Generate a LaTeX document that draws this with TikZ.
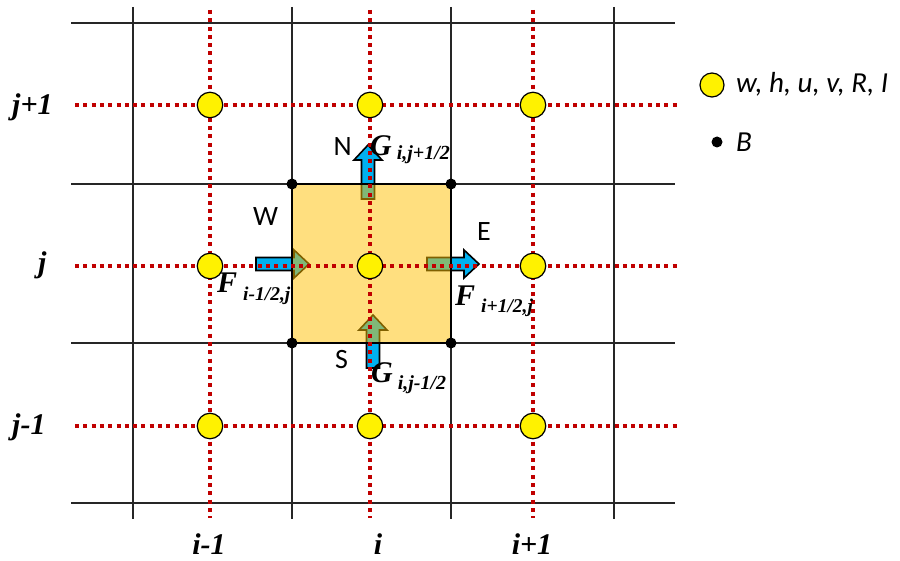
\documentclass[tikz,border=0pt]{standalone}
\usepackage{fontspec}
\setmainfont{Liberation Serif}
\newfontfamily\calibrifont{Carlito}
\definecolor{gridred}{HTML}{C00000}
\definecolor{fluxblue}{HTML}{00B0F0}
\definecolor{cellorange}{HTML}{FFC000}
\newcommand\blkarrow[4]{%
  \draw[fluxarrow, shift={(#1,#2)}, rotate=#3]
    (0,-6.5) -- (#4-15,-6.5) -- (#4-15,-14) -- (#4,0) -- (#4-15,14)
    -- (#4-15,6.5) -- (0,6.5) -- cycle;}
\begin{document}
\begin{tikzpicture}[x=1pt,y=-1pt,
  gridline/.style={draw=black!85, line width=1.2pt},
  redline/.style={draw=gridred, line width=3.8pt, dash pattern=on 4pt off 4.3pt},
  fluxarrow/.style={fill=fluxblue, draw=black, line width=1.6pt, line join=miter},
  cellpt/.style={circle, draw=black, line width=1.2pt, fill=yellow, minimum size=25.5pt, inner sep=0pt},
  cornerpt/.style={circle, fill=black, minimum size=11pt, inner sep=0pt},
  dirlbl/.style={font=\calibrifont\fontsize{28}{28}\selectfont, inner sep=0pt},
  idxlbl/.style={font=\bfseries\itshape\fontsize{30}{30}\selectfont, inner sep=0pt},
  leglbl/.style={font=\calibrifont\itshape\fontsize{29}{29}\selectfont, inner sep=0pt, anchor=base west}]
\useasboundingbox (0,0) rectangle (900,561);
% black grid
\foreach \x in {133,292,451,614} \draw[gridline] (\x,7) -- (\x,519);
\foreach \y in {23,184,343,503} \draw[gridline] (71,\y) -- (675,\y);
% flux arrows (under the translucent cell)
\blkarrow{256}{264}{0}{53}
\blkarrow{427}{264}{0}{52}
\blkarrow{368}{199}{90}{54}
\blkarrow{373}{368}{90}{53}
% control volume
\fill[cellorange, fill opacity=0.5] (292,184) rectangle (451,343);
\draw[black, line width=1.8pt] (292,184) rectangle (451,343);
% red dotted staggered lines
\foreach \x in {210,370,533} \draw[redline] (\x,10) -- (\x,518);
\foreach \y in {105,266,426} \draw[redline] (75,\y) -- (680,\y);
% cell centres
\foreach \x/\xn in {210/a,370/b,533/c}
  \foreach \y/\yn in {105/1,266/2,426/3}
    \node[cellpt] (c\xn\yn) at (\x,\y) {};
% corners
\node[cornerpt] (k1) at (292,184) {};
\node[cornerpt] (k2) at (451,184) {};
\node[cornerpt] (k3) at (292,343) {};
\node[cornerpt] (k4) at (451,343) {};
% direction letters
\node[dirlbl, anchor=base east] (lN) at (352,156) {N};
\node[dirlbl, anchor=base west] (lW) at (253,226) {W};
\node[dirlbl, anchor=base west] (lE) at (477,241) {E};
\node[dirlbl, anchor=base west] (lS) at (335,369) {S};
% flux labels
\node[idxlbl, anchor=base west] (gN) at (370,156) {G\hspace{5pt}\raisebox{-4pt}{\fontsize{20}{20}\selectfont i,j+1/2}};
\node[idxlbl, anchor=base west] (gS) at (371,383) {G\hspace{5pt}\raisebox{-6pt}{\fontsize{20}{20}\selectfont i,j-1/2}};
\node[idxlbl, anchor=base west] (fW) at (217,293) {F\hspace{6pt}\raisebox{-8pt}{\fontsize{19.5}{19.5}\selectfont i-1/2,j}};
\node[idxlbl, anchor=base west] (fE) at (455,306) {F\hspace{6pt}\raisebox{-7pt}{\fontsize{19.5}{19.5}\selectfont i+1/2,j}};
% index labels
\node[idxlbl, anchor=base west] (jp) at (12,115) {j+1};
\node[idxlbl, anchor=base west] (jj) at (38,273) {j};
\node[idxlbl, anchor=base west] (jm) at (12,434) {j-1};
\node[idxlbl, anchor=base] (im) at (209,554) {i-1};
\node[idxlbl, anchor=base] (ii) at (378,554) {i};
\node[idxlbl, anchor=base] (ip) at (532,554) {i+1};
% legend
\node[cellpt, minimum size=24pt] (legc) at (712,85) {};
\node[leglbl] (legt) at (736,93) {w, h, u, v, R, I};
\node[cornerpt] (legd) at (717,142) {};
\node[leglbl] (legb) at (736,152) {B};
\end{tikzpicture}
\end{document}
